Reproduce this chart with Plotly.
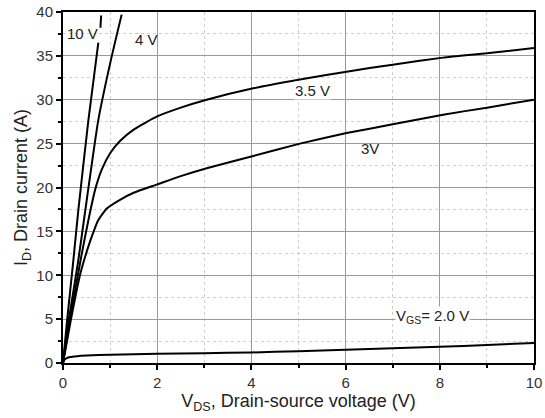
import plotly.graph_objects as go

# V_GS = 10 V
x10 = [0, 0.09, 0.22, 0.325, 0.54, 0.75]
y10 = [0, 5.0, 11.7, 17.4, 27.7, 36.5]
x10b = [0.795, 0.81]
y10b = [38.2, 39.6]
# V_GS = 4 V
x4 = [0, 0.12, 0.325, 0.45, 0.75, 1.02, 1.245]
y4 = [0, 4.8, 11.7, 16.5, 27.7, 34.6, 39.7]
# V_GS = 3.5 V
x35 = [0, 0.15, 0.4, 0.54, 0.68, 0.82, 1.0, 1.21, 1.5, 2.0, 2.5, 3.05, 4.04, 5.03, 6.02, 7.0, 8.07, 9.0, 10.0]
y35 = [0, 5.0, 12.5, 16.3, 19.7, 22.0, 23.9, 25.3, 26.6, 28.1, 29.1, 30.0, 31.3, 32.3, 33.2, 34.0, 34.8, 35.3, 35.9]
# V_GS = 3 V
x3 = [0, 0.17, 0.36, 0.47, 0.61, 0.75, 0.93, 1.21, 1.5, 2.0, 2.5, 3.05, 4.04, 5.03, 6.02, 7.0, 8.07, 9.0, 10.0]
y3 = [0, 5.0, 10.0, 12.1, 14.4, 16.3, 17.6, 18.6, 19.4, 20.35, 21.3, 22.2, 23.6, 25.0, 26.2, 27.2, 28.3, 29.1, 30.0]
# V_GS = 2.0 V
x2 = [0, 0.03, 0.08, 0.15, 0.3, 0.5, 1.0, 2.0, 3.0, 4.0, 5.0, 6.0, 7.0, 8.0, 9.0, 10.0]
y2 = [0, 0.35, 0.55, 0.68, 0.78, 0.85, 0.95, 1.05, 1.12, 1.2, 1.35, 1.5, 1.67, 1.85, 2.05, 2.28]

labels = ["10 V", "4 V", "3.5 V", "3V", "V<sub>GS</sub>= 2.0 V"]
label_x = [0.42, 1.78, 5.3, 6.52, 7.85]
label_y = [37.6, 36.9, 31.0, 24.5, 5.25]
label_bg = [None, None, "white", None, "white"]

fig = go.Figure()
line = dict(color="black", width=2)
for xs, ys in [(x10, y10), (x10b, y10b), (x4, y4), (x35, y35), (x3, y3), (x2, y2)]:
    fig.add_trace(go.Scatter(x=xs, y=ys, mode="lines", line=dict(line, shape="spline", smoothing=0.5),
                             showlegend=False, hoverinfo="skip"))

for t, lx, ly, bg in zip(labels, label_x, label_y, label_bg):
    fig.add_annotation(x=lx, y=ly, text=t, showarrow=False,
                       font=dict(family="Liberation Sans, Arial", size=15, color="#222"),
                       bgcolor=bg if bg else "rgba(0,0,0,0)", borderpad=0)

axfont = dict(family="Liberation Sans, Arial", size=15, color="#333")
titlefont = dict(family="Liberation Sans, Arial", size=18, color="#222")
fig.update_xaxes(range=[0, 10], dtick=2, tick0=0, showgrid=True, gridcolor="#9a9a9a", gridwidth=1,
                 minor=dict(dtick=1, showgrid=True, gridcolor="#cfcfcf", griddash="dot",
                            ticks="outside", ticklen=3, tickcolor="black"),
                 ticks="outside", ticklen=5, tickcolor="black", tickwidth=1.5,
                 showline=True, linecolor="black", linewidth=2, mirror=True,
                 zeroline=False, tickfont=axfont, automargin=False,
                 title=dict(text="V<sub>DS</sub>, Drain-source voltage (V)", font=titlefont, standoff=4))
fig.update_yaxes(range=[0, 40], dtick=5, tick0=0, showgrid=True, gridcolor="#9a9a9a", gridwidth=1,
                 minor=dict(dtick=2.5, showgrid=True, gridcolor="#cfcfcf", griddash="dot",
                            ticks="outside", ticklen=3, tickcolor="black"),
                 ticks="outside", ticklen=5, tickcolor="black", tickwidth=1.5,
                 showline=True, linecolor="black", linewidth=2, mirror=True,
                 zeroline=False, tickfont=axfont, automargin=False,
                 title=dict(text="I<sub>D</sub>, Drain current (A)", font=titlefont, standoff=4))

fig.update_layout(width=545, height=418, margin=dict(l=63, r=11, t=12, b=55),
                  paper_bgcolor="white", plot_bgcolor="white")
fig.write_html("out.html")
